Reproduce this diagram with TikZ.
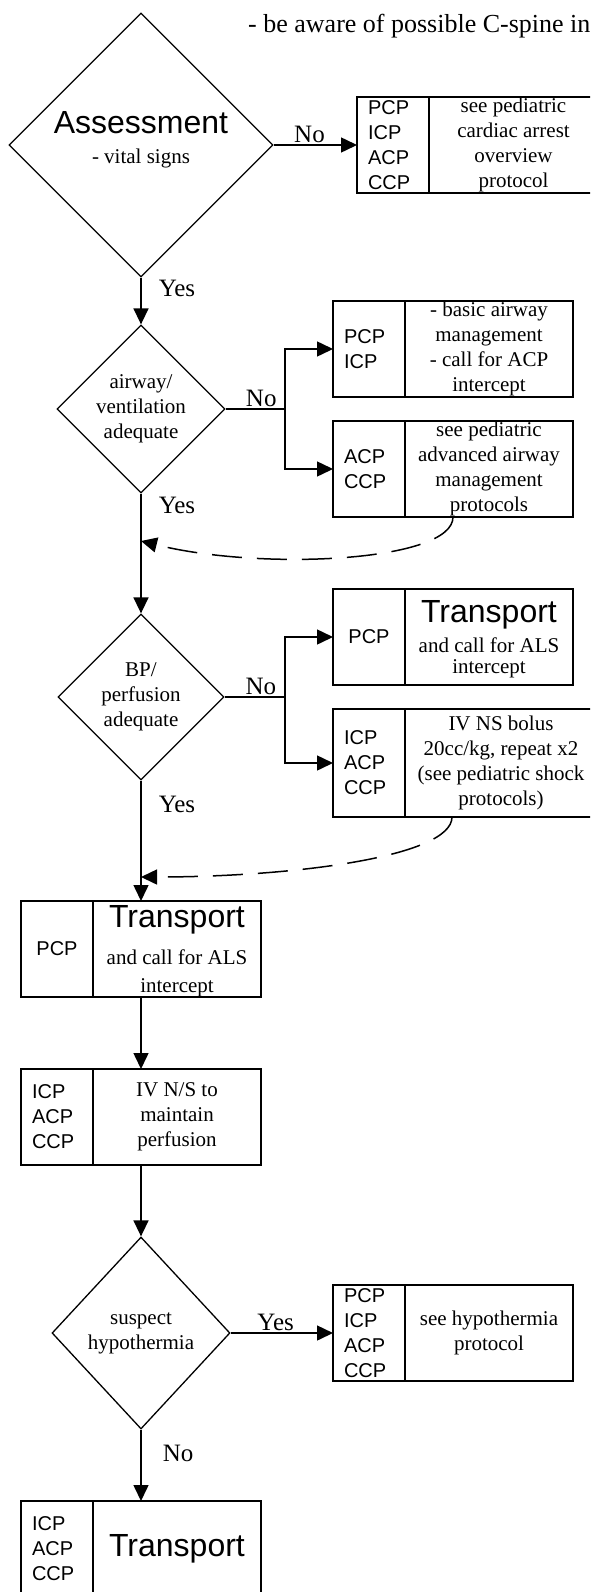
\documentclass[tikz,border=0pt]{standalone}
\usepackage{fontspec}
\setmainfont{Liberation Serif}
\setsansfont{Liberation Sans}
\usetikzlibrary{arrows.meta,positioning,shapes.geometric,calc}
\newcommand\bodytxt{\fontsize{21}{25}\selectfont}
\newcommand\roletxt{\sffamily\fontsize{20}{25}\selectfont}
\newcommand\headtxt{\sffamily\fontsize{32}{36}\selectfont}
\newcommand\lbltxt{\fontsize{25}{28}\selectfont}
\tikzset{
  decision/.style={diamond,draw,line width=1.3pt,inner sep=0pt,align=center,font=\bodytxt},
  rolecell/.style={draw,line width=1.6pt,outer sep=0pt,inner xsep=11pt,inner ysep=0pt,minimum width=72pt,minimum height=96pt,text width=50pt,align=left,font=\roletxt},
  infocell/.style={draw,line width=1.6pt,outer sep=0pt,inner xsep=3pt,inner ysep=0pt,minimum width=168pt,minimum height=96pt,align=center,font=\bodytxt},
  flowarrow/.style={-{Triangle[length=16pt,width=15pt]},line width=1.5pt},
  flowline/.style={line width=1.5pt},
  backarrow/.style={-{Triangle[length=16pt,width=15pt]},line width=1.5pt,dash pattern=on 30pt off 15pt},
  answer/.style={font=\lbltxt,inner sep=2pt}
}
\begin{document}
\begin{tikzpicture}[x=1pt,y=-1pt]
\path[use as bounding box] (0,0) rectangle (590,1592);
\clip (0,0) rectangle (590,1592);
\node[anchor=west,inner sep=0pt,font=\fontsize{26}{30}\selectfont] (spine) at (248,26) {- be aware of possible C-spine in};

\node[decision,minimum width=264pt,minimum height=264pt] (assess) at (141,145) {{\headtxt Assessment}\\[4.5pt]- vital signs\rule[-15.5pt]{0pt}{1pt}};
\node[decision,minimum width=168pt,minimum height=168pt] (airway) at (141,409) {airway/\\ventilation\\adequate};
\node[decision,minimum width=166pt,minimum height=166pt] (bpchk) at (141,697) {BP/\\perfusion\\adequate};
\node[decision,minimum width=178pt,minimum height=192pt] (hypo) at (141,1333) {suspect\\hypothermia};

\node[rolecell] (cardR) at (393,145) {PCP\\ICP\\ACP\\CCP};
\node[infocell,right=0pt of cardR,minimum width=169pt] (cardT) {see pediatric\\cardiac arrest\\overview\\protocol};

\node[rolecell] (airR) at (369,349) {PCP\\ICP};
\node[infocell,right=0pt of airR] (airT) {- basic airway\\management\\- call for ACP\\intercept};
\node[rolecell,below=24pt of airR] (advR) {ACP\\CCP};
\node[infocell,right=0pt of advR] (advT) {see pediatric\\advanced airway\\management\\protocols};

\node[rolecell,align=center] (trR) at (369,637) {PCP};
\node[infocell,right=0pt of trR] (trT) {{\headtxt Transport}\rule{0pt}{27pt}\\[5pt]and call for ALS\\[-4pt]intercept};
\node[rolecell,below=24pt of trR,minimum height=108pt] (ivR) {ICP\\ACP\\CCP};
\node[infocell,right=0pt of ivR,minimum width=192pt,minimum height=108pt] (ivT) {IV NS bolus\\20cc/kg, repeat x2\\(see pediatric shock\\protocols)};

\node[rolecell,align=center] (ptrR) at (57,949) {PCP};
\node[infocell,right=0pt of ptrR] (ptrT) {{\headtxt Transport}\rule{0pt}{26pt}\\[12pt]and call for ALS\\[3pt]intercept};
\node[rolecell,below=72pt of ptrR] (ivnsR) {ICP\\ACP\\CCP};
\node[infocell,right=0pt of ivnsR] (ivnsT) {IV N/S to\\maintain\\perfusion};

\node[rolecell] (hypR) at (369,1333) {PCP\\ICP\\ACP\\CCP};
\node[infocell,right=0pt of hypR] (hypT) {see hypothermia\\protocol};

\node[rolecell] (finR) at (57,1549) {ICP\\ACP\\CCP};
\node[infocell,right=0pt of finR] (finT) {{\headtxt Transport}};

\coordinate (airsplit) at (285,409);
\coordinate (bpsplit) at (285,697);
\coordinate (rejoinA) at (141,541);
\coordinate (rejoinB) at (141,877);

\draw[flowarrow] (assess.east) -- node[answer,anchor=south,pos=0.43]{No} (cardR.west);
\draw[flowarrow] (assess.south) -- node[answer,anchor=west,pos=0.23,xshift=15pt]{Yes} (airway.north);
\draw[flowline] (airway.east) -- node[answer,anchor=south,pos=0.6]{No} (airsplit);
\draw[flowarrow] (airsplit) |- (airR.west);
\draw[flowarrow] (airsplit) |- (advR.west);
\draw[flowarrow] (airway.south) -- node[answer,anchor=west,pos=0.1,xshift=15pt]{Yes} (bpchk.north);
\draw[backarrow] ([xshift=-36pt]advT.south) .. controls +(0,45) and +(120,30) .. (rejoinA);
\draw[flowline] (bpchk.east) -- node[answer,anchor=south,pos=0.6]{No} (bpsplit);
\draw[flowarrow] (bpsplit) |- (trR.west);
\draw[flowarrow] (bpsplit) |- (ivR.west);
\draw[flowarrow] (bpchk.south) -- node[answer,anchor=west,pos=0.2,xshift=15pt]{Yes} (bpchk.south |- ptrT.north);
\draw[backarrow] ([xshift=-49pt]ivT.south) .. controls +(0,40) and +(150,0) .. (rejoinB);
\draw[flowarrow] (ptrT.south -| assess.south) -- (ivnsT.north -| assess.south);
\draw[flowarrow] (ivnsT.south -| hypo.north) -- (hypo.north);
\draw[flowarrow] (hypo.east) -- node[answer,anchor=south,pos=0.44]{Yes} (hypR.west);
\draw[flowarrow] (hypo.south) -- node[answer,anchor=west,pos=0.33,xshift=19pt]{No} (hypo.south |- finT.north);
\end{tikzpicture}
\end{document}
